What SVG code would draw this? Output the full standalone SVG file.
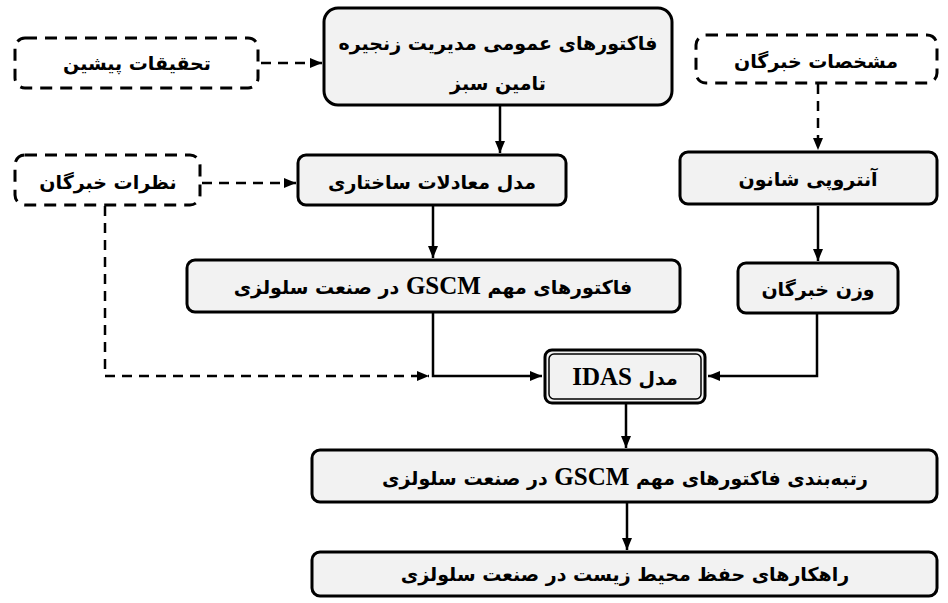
<svg xmlns="http://www.w3.org/2000/svg" width="948" height="603" viewBox="0 0 948 603">
<defs>
<marker id="ah" viewBox="0 0 12 10" refX="12" refY="5" markerWidth="12" markerHeight="10" markerUnits="userSpaceOnUse" orient="auto">
<path d="M0,0 L12,5 L0,10 Z" fill="#000"/>
</marker>
</defs>
<style>
.box{fill:#f2f2f2;stroke:#000;stroke-width:3}
.dbox{fill:#fff;stroke:#000;stroke-width:3;stroke-dasharray:12 8}
.t{font-family:"DejaVu Sans",sans-serif;font-weight:bold;font-size:19px;fill:#000;text-anchor:middle;direction:rtl}
.lat{font-family:"Liberation Serif",serif;font-weight:bold;font-size:25px}
.c{fill:none;stroke:#000;stroke-width:2.5}
.d{fill:none;stroke:#000;stroke-width:2.5;stroke-dasharray:10 7}
</style>
<g id="connectors">
<path class="d" d="M261,63 H322" marker-end="url(#ah)"/>
<path class="c" d="M500,105 V153" marker-end="url(#ah)"/>
<path class="d" d="M202,183 H296" marker-end="url(#ah)"/>
<path class="d" d="M818,84 V150" marker-end="url(#ah)"/>
<path class="c" d="M433,206 V258" marker-end="url(#ah)"/>
<path class="c" d="M818,206 V261" marker-end="url(#ah)"/>
<path class="d" d="M105,206 V376 H429" marker-end="url(#ah)"/>
<path class="c" d="M433,313 V376 H542" marker-end="url(#ah)"/>
<path class="c" d="M817,314 V376 H708" marker-end="url(#ah)"/>
<path class="c" d="M626,404 V448" marker-end="url(#ah)"/>
<path class="c" d="M627,503 V550" marker-end="url(#ah)"/>
</g>
<g id="n_prior">
<rect class="dbox" x="15" y="38" width="243" height="50" rx="10"/>
<text class="t" x="137" y="70">تحقیقات پیشین</text>
</g>
<g id="n_general">
<rect class="box" x="324" y="8" width="348" height="97" rx="14"/>
<text class="t" x="498" y="50">فاکتورهای عمومی مدیریت زنجیره</text>
<text class="t" x="498" y="90">تامین سبز</text>
</g>
<g id="n_expertspec">
<rect class="dbox" x="696" y="35" width="241" height="48" rx="10"/>
<text class="t" x="816" y="68">مشخصات خبرگان</text>
</g>
<g id="n_opinions">
<rect class="dbox" x="15" y="155" width="185" height="50" rx="10"/>
<text class="t" x="108" y="189">نظرات خبرگان</text>
</g>
<g id="n_sem">
<rect class="box" x="298" y="155" width="268" height="50" rx="8"/>
<text class="t" x="432" y="189">مدل معادلات ساختاری</text>
</g>
<g id="n_entropy">
<rect class="box" x="680" y="152" width="257" height="52" rx="8"/>
<text class="t" x="808" y="186">آنتروپی شانون</text>
</g>
<g id="n_gscm">
<rect class="box" x="187" y="260" width="493" height="52" rx="8"/>
<text class="t" x="433" y="294">فاکتورهای مهم <tspan class="lat">GSCM</tspan> در صنعت سلولزی</text>
</g>
<g id="n_weight">
<rect class="box" x="738" y="263" width="160" height="50" rx="8"/>
<text class="t" x="818" y="296">وزن خبرگان</text>
</g>
<g id="n_idas">
<rect class="box" x="545" y="350" width="160" height="53" rx="7"/>
<rect x="549" y="354" width="152" height="45" rx="5" fill="none" stroke="#000" stroke-width="1.5"/>
<text class="t" x="625" y="385">مدل <tspan class="lat">IDAS</tspan></text>
</g>
<g id="n_rank">
<rect class="box" x="312" y="450" width="625" height="52" rx="8"/>
<text class="t" x="625" y="485">رتبه‌بندی فاکتورهای مهم <tspan class="lat">GSCM</tspan> در صنعت سلولزی</text>
</g>
<g id="n_strategies">
<rect class="box" x="312" y="552" width="625" height="44" rx="8"/>
<text class="t" x="625" y="581">راهکارهای حفظ محیط زیست در صنعت سلولزی</text>
</g>
</svg>
